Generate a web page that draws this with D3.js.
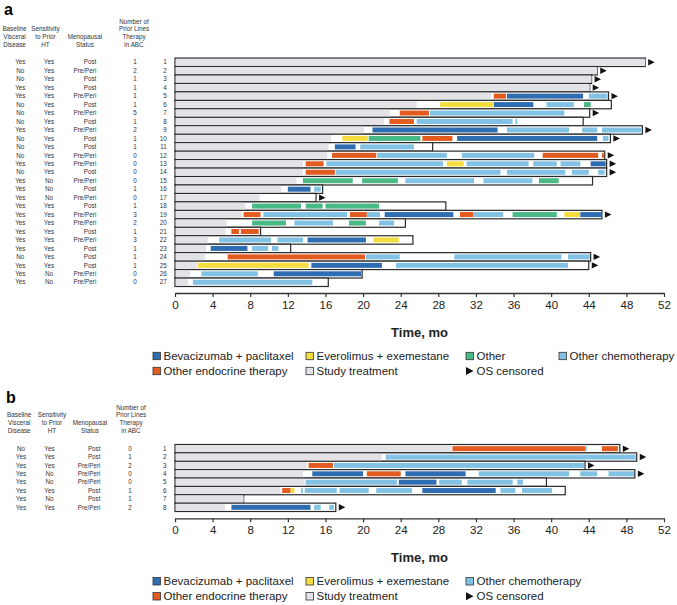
<!DOCTYPE html>
<html>
<head>
<meta charset="utf-8">
<script src="https://cdn.jsdelivr.net/npm/d3@7"></script>
<style>
body { margin: 0; background: #fff; }
svg { font-family: "Liberation Sans", Arial, sans-serif; }
</style>
</head>
<body>
<script>
// treatment codes: S study, B bev+pac, E everolimus+exe, O other, C other chemo, H other endocrine
const colors = {S: '#e3e3e7', B: '#2f6db3', E: '#f4dd3c', O: '#49b985', C: '#82c3e5', H: '#e35b1e'};

const headerCols = [
    ['Baseline', 'Visceral', 'Disease'],
    ['Sensitivity', 'to Prior', 'HT'],
    ['Menopausal', 'Status'],
    ['Number of', 'Prior Lines', 'Therapy', 'in ABC']
];
const timeTicks = [0, 4, 8, 12, 16, 20, 24, 28, 32, 36, 40, 44, 48, 52];

// panel a
const aVisceral = ['Yes','No','No','Yes','Yes','No','No','No','Yes','No','No','No','Yes','No','Yes','Yes','Yes','Yes','Yes','Yes','Yes','Yes','Yes','No','Yes','Yes','Yes'];
const aSensitivity = ['Yes','Yes','Yes','Yes','Yes','Yes','Yes','Yes','Yes','Yes','Yes','Yes','Yes','Yes','No','No','No','Yes','Yes','Yes','Yes','Yes','Yes','Yes','Yes','No','No'];
const aMenopause = ['Post','Pre/Peri','Post','Post','Pre/Peri','Post','Pre/Peri','Post','Pre/Peri','Post','Post','Pre/Peri','Pre/Peri','Post','Pre/Peri','Post','Pre/Peri','Post','Pre/Peri','Pre/Peri','Post','Pre/Peri','Post','Post','Post','Pre/Peri','Pre/Peri'];
const aPriorLines = [1,2,1,1,1,1,5,1,2,1,1,0,0,0,0,1,0,1,3,2,1,3,1,1,1,0,0];
const aOS = [50.0,44.9,44.3,44.1,46.1,46.4,44.1,43.4,49.7,46.3,27.4,45.7,45.9,45.9,44.4,15.7,15.0,28.8,45.4,24.5,9.1,25.3,12.3,44.2,44.0,19.9,16.3];
const aCensored = [1,1,1,1,1,0,1,0,1,1,0,1,1,1,0,0,1,0,1,0,0,0,0,1,1,0,0];
const aTreatments = [
    [['S',0,50.0]],
    [['S',0,44.9]],
    [['S',0,44.3]],
    [['S',0,44.1]],
    [['S',0,33.6],['H',33.9,35.2],['B',35.3,43.4],['C',44.0,46.0]],
    [['S',0,25.7],['E',28.2,33.8],['B',33.9,38.1],['C',39.5,42.4],['O',43.5,44.2]],
    [['S',0,22.9],['H',23.9,27.0],['C',27.1,41.4]],
    [['S',0,22.2],['H',22.8,25.4],['C',25.7,35.9],['C',36.2,36.4]],
    [['S',0,20.1],['B',21.0,34.3],['C',35.3,41.9],['C',43.3,44.9],['C',45.4,49.6]],
    [['S',0,16.6],['E',17.8,20.5],['O',20.6,26.1],['H',26.3,29.5],['B',30.0,44.9],['C',45.5,46.1]],
    [['S',0,16.3],['B',17.0,19.2],['C',19.7,25.4]],
    [['S',0,16.2],['H',16.7,21.4],['C',21.5,28.9],['C',30.5,38.2],['H',39.1,45.0],['H',45.4,45.6]],
    [['S',0,13.6],['H',13.9,15.8],['C',16.1,28.5],['E',28.9,30.7],['C',31.0,37.6],['C',38.1,40.6],['C',41.0,43.1],['B',44.2,45.8]],
    [['S',0,13.6],['H',13.9,17.0],['C',17.1,34.6],['C',35.3,41.5],['C',42.2,44.0],['C',45.0,45.7]],
    [['S',0,12.9],['O',13.6,18.9],['O',19.9,23.7],['C',24.5,31.8],['C',32.8,38.0],['O',38.7,40.8]],
    [['S',0,11.3],['B',12.0,14.4],['C',14.8,15.5]],
    [['S',0,9.0]],
    [['S',0,7.5],['O',8.2,13.4],['O',13.9,15.7],['O',16.0,21.7]],
    [['S',0,7.1],['H',7.3,9.1],['C',9.4,18.3],['H',18.6,20.4],['C',20.4,21.8],['B',22.3,29.6],['H',30.3,31.7],['C',31.7,34.9],['O',35.9,40.6],['E',41.4,43.1],['B',43.1,45.3]],
    [['S',0,5.5],['O',8.2,11.8],['C',12.7,16.8],['O',18.5,20.3],['C',21.7,23.3]],
    [['S',0,5.4],['H',6.0,6.8],['H',7.0,8.9]],
    [['S',0,3.5],['C',4.7,10.2],['C',10.9,13.6],['B',14.1,20.3],['E',21.1,23.8]],
    [['S',0,3.3],['B',3.8,7.7],['C',8.2,9.9],['C',10.3,11.0]],
    [['S',0,3.2],['H',5.6,20.2],['C',20.3,23.9],['C',29.7,41.1],['C',41.8,44.1]],
    [['S',0,2.3],['E',2.4,14.2],['B',14.5,22.0],['C',23.5,41.8]],
    [['S',0,1.6],['C',2.8,8.8],['B',10.5,19.8]],
    [['S',0,1.4],['C',1.9,14.6]]
];
const aLegend = [['B','Bevacizumab + paclitaxel'],['E','Everolimus + exemestane'],['O','Other'],['C','Other chemotherapy'],
                 ['H','Other endocrine therapy'],['S','Study treatment'],['T','OS censored']];

// panel b
const bVisceral = ['No','Yes','Yes','Yes','Yes','Yes','Yes','Yes'];
const bSensitivity = ['Yes','Yes','Yes','No','No','Yes','No','Yes'];
const bMenopause = ['Post','Post','Pre/Peri','Pre/Peri','Pre/Peri','Post','Post','Pre/Peri'];
const bPriorLines = [0,1,2,0,0,1,1,2];
const bOS = [47.3,49.1,43.6,48.9,39.5,41.5,7.3,17.1];
const bCensored = [1,1,1,1,0,0,0,1];
const bTreatments = [
    [['S',0,29.4],['H',29.5,43.6],['C',43.6,43.8],['H',45.4,47.1]],
    [['S',0,22.0],['C',22.4,49.0]],
    [['S',0,14.0],['H',14.2,16.8],['C',16.9,43.5]],
    [['S',0,13.6],['B',14.6,20.0],['H',20.4,24.0],['B',24.5,30.9],['C',32.3,41.9],['C',43.1,44.9],['C',46.1,48.8]],
    [['S',0,13.8],['C',13.9,23.6],['B',23.8,27.8],['C',28.1,30.5],['C',31.1,35.9],['C',36.4,37.0]],
    [['S',0,11.2],['H',11.4,12.3],['E',12.3,12.7],['C',13.4,13.6],['C',13.8,17.2],['C',17.5,20.6],['C',21.4,25.2],['B',26.3,34.1],['C',34.6,36.2],['C',36.9,40.1]],
    [['S',0,7.3]],
    [['S',0,5.3],['B',6.0,14.4],['C',14.8,15.5],['C',16.4,16.9]]
];
const bLegend = [['B','Bevacizumab + paclitaxel'],['E','Everolimus + exemestane'],['C','Other chemotherapy'],
                 ['H','Other endocrine therapy'],['S','Study treatment'],['T','OS censored']];

const svg = d3.select('body').append('svg')
    .attr('width', 677)
    .attr('height', 605);

const x = d3.scaleLinear().domain([0, 52]).range([175, 664]);
const tableFont = 6.3;

function drawPanel(p) {
    const n = p.os.length;
    const y = d3.scaleBand()
        .domain(d3.range(n))
        .range(p.rowRange)
        .padding(0);
    const cy = i => y(i) + y.bandwidth() / 2;
    const g = svg.append('g');

    // panel letter
    g.append('text').text(p.label)
        .attr('x', p.labelPos[0]).attr('y', p.labelPos[1])
        .style('font-size', '16px').style('font-weight', 'bold');

    // table headers, bottom aligned
    headerCols.forEach((lines, c) => {
        lines.forEach((t, k) => {
            g.append('text').text(t)
                .attr('x', p.headerX[c])
                .attr('y', p.headerBottom - (lines.length - 1 - k) * 7.6 + 2.2)
                .attr('text-anchor', 'middle')
                .style('font-size', tableFont + 'px')
                .attr('fill', '#333');
        });
    });

    // table values
    const cols = [p.visceral, p.sensitivity, p.menopause, p.prior];
    cols.forEach((vals, c) => {
        g.selectAll(null).data(vals).enter().append('text')
            .text(d => d)
            .attr('x', p.valueX[c])
            .attr('y', (d, i) => cy(i) + 2.2)
            .attr('text-anchor', c === 2 ? 'end' : 'middle')
            .style('font-size', tableFont + 'px')
            .attr('fill', '#333');
    });
    g.selectAll(null).data(p.os).enter().append('text')
        .text((d, i) => i + 1)
        .attr('x', p.rowNumX)
        .attr('y', (d, i) => cy(i) + 2.2)
        .attr('text-anchor', 'end')
        .style('font-size', tableFont + 'px')
        .attr('fill', '#333');

    // outline bars (OS)
    g.selectAll(null).data(p.os).enter().append('rect')
        .attr('x', x(0))
        .attr('y', (d, i) => y(i))
        .attr('width', d => x(d) - x(0))
        .attr('height', y.bandwidth())
        .attr('fill', '#fff')
        .attr('stroke', '#2a2a2a')
        .attr('stroke-width', 1.2);

    // treatment segments
    p.treat.forEach((segs, i) => {
        g.selectAll(null).data(segs).enter().append('rect')
            .attr('x', d => x(d[1]) + (d[0] === 'S' ? 0.8 : 0))
            .attr('width', d => Math.max(0.6, x(d[2]) - x(d[1]) - (d[0] === 'S' ? 0.8 : 0)))
            .attr('y', d => cy(i) - (d[0] === 'S' ? 3.3 : 2.5))
            .attr('height', d => d[0] === 'S' ? 6.6 : 5)
            .attr('fill', d => colors[d[0]]);
    });

    // censored markers
    g.selectAll(null).data(p.os.map((d, i) => [d, i]).filter(d => p.censored[d[1]]))
        .enter().append('path')
        .attr('d', d => {
            const x0 = x(d[0]) + 3, yc = cy(d[1]);
            return `M${x0},${yc - 3.2}L${x0 + 6.5},${yc}L${x0},${yc + 3.2}Z`;
        })
        .attr('fill', '#111');

    // time axis
    const axis = d3.axisBottom(x).tickValues(timeTicks).tickSize(4).tickSizeOuter(0).tickPadding(4);
    const ax = g.append('g')
        .attr('transform', `translate(0,${p.axisY})`)
        .call(axis);
    ax.select('.domain').attr('stroke', '#333').attr('stroke-width', 1.3);
    ax.selectAll('.tick line').attr('stroke', '#333').attr('stroke-width', 1.2);
    ax.selectAll('.tick text')
        .style('font-size', '11.5px')
        .style('font-family', '"Liberation Sans", Arial, sans-serif')
        .attr('fill', '#222');

    g.append('text').text('Time, mo')
        .attr('x', (x(0) + x(52)) / 2)
        .attr('y', p.axisY + 43.5)
        .attr('text-anchor', 'middle')
        .style('font-size', '13px')
        .style('font-weight', 'bold')
        .attr('fill', '#222');

    // legend
    const legX = [153, 306, 466, 559];
    p.legend.forEach((item, k) => {
        const row = k < p.legendRow1 ? 0 : 1;
        const col = row === 0 ? k : k - p.legendRow1;
        const lx = legX[col], ly = p.legendY[row];
        if (item[0] === 'T') {
            g.append('path')
                .attr('d', `M${lx},${ly - 4}L${lx + 7.5},${ly}L${lx},${ly + 4}Z`)
                .attr('fill', '#111');
        } else {
            g.append('rect')
                .attr('x', lx).attr('y', ly - 3.7)
                .attr('width', 7.4).attr('height', 7.4)
                .attr('fill', colors[item[0]])
                .attr('stroke', '#333').attr('stroke-width', 0.8);
        }
        g.append('text').text(item[1])
            .attr('x', lx + 10.5)
            .attr('y', ly + 4)
            .style('font-size', '11.5px')
            .attr('fill', '#222');
    });
}

drawPanel({
    label: 'a', labelPos: [4, 15],
    visceral: aVisceral, sensitivity: aSensitivity, menopause: aMenopause, prior: aPriorLines,
    os: aOS, censored: aCensored, treat: aTreatments,
    rowRange: [58.05, 286.5],
    headerBottom: 44.3, headerX: [14.5, 45.5, 85, 134], valueX: [20.3, 49, 96.3, 135], rowNumX: 166.7,
    axisY: 293, legendY: [356, 371], legend: aLegend, legendRow1: 4
});

drawPanel({
    label: 'b', labelPos: [6, 403],
    visceral: bVisceral, sensitivity: bSensitivity, menopause: bMenopause, prior: bPriorLines,
    os: bOS, censored: bCensored, treat: bTreatments,
    rowRange: [444.5, 511.5],
    headerBottom: 430.3, headerX: [19.2, 52, 90, 131], valueX: [21, 49.5, 100.5, 130], rowNumX: 166.5,
    axisY: 518.3, legendY: [581.3, 596.3], legend: bLegend, legendRow1: 3
});
</script>
</body>
</html>
